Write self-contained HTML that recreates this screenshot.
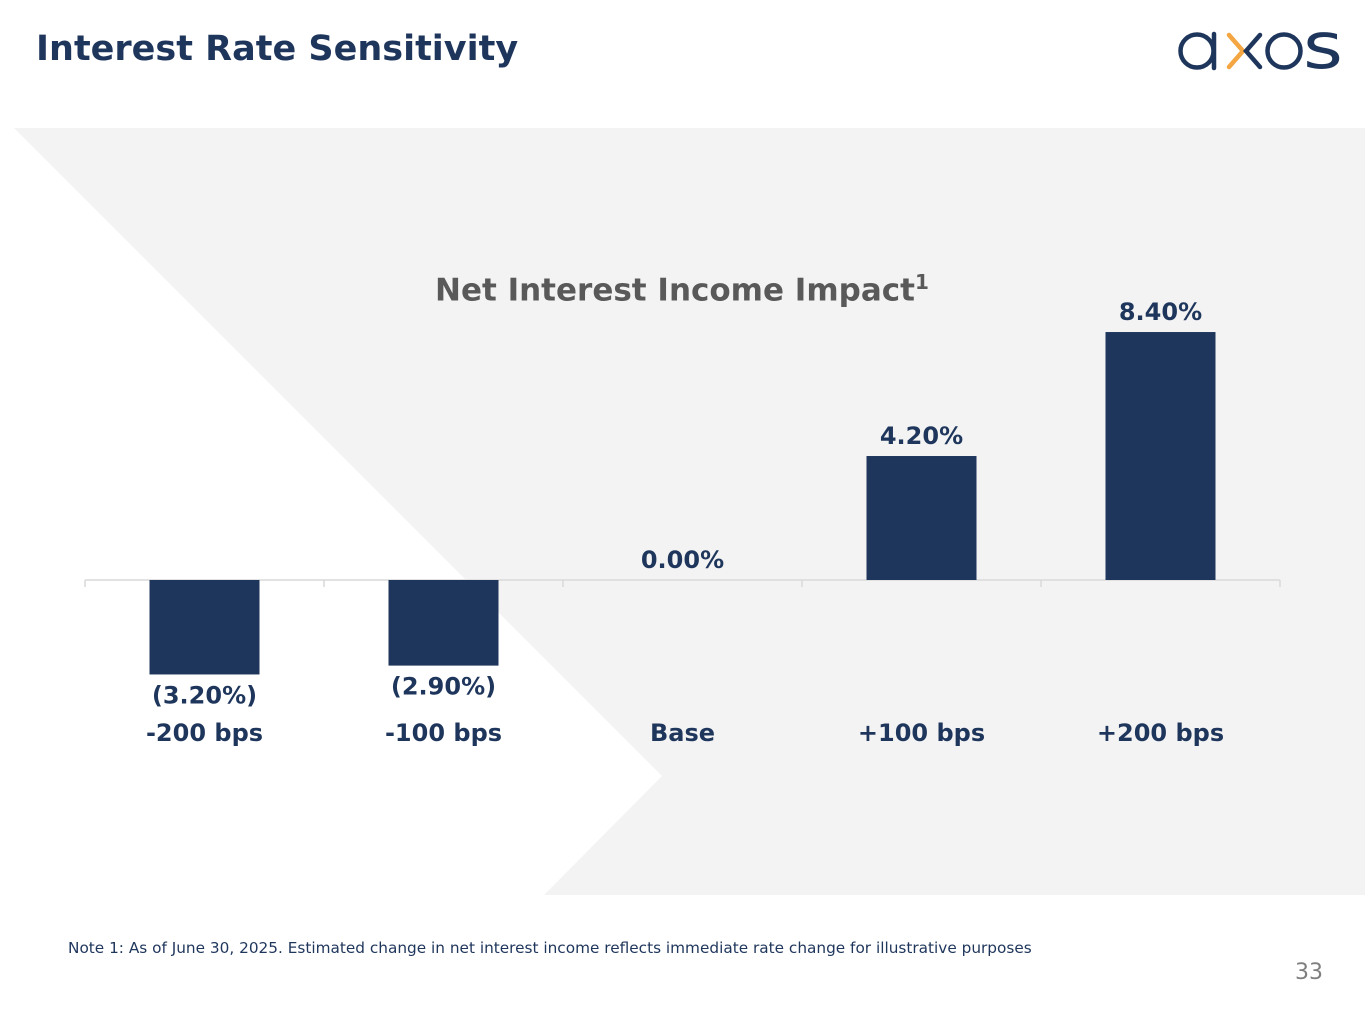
<!DOCTYPE html>
<html><head><meta charset="utf-8"><style>
body{margin:0;width:1365px;height:1024px;background:#fff;position:relative;overflow:hidden;font-family:"DejaVu Sans","Liberation Sans",sans-serif}
.t{position:absolute;white-space:nowrap}
</style></head><body>
<svg width="1365" height="1024" style="position:absolute;left:0;top:0">
<polygon points="14,128 1365,128 1365,895 544,895 662,776" fill="#f3f3f3"/>
<g fill="none" stroke-width="4.5" stroke-linecap="round">
<circle cx="1197" cy="51" r="16.5" stroke="#1f365c"/>
<line x1="1214" y1="34" x2="1214" y2="68" stroke="#1f365c"/>
<polyline points="1229,35 1243,51 1229,67" stroke="#f3a641"/>
<polyline points="1260,35 1246,51 1260,67" stroke="#1f365c"/>
<circle cx="1284" cy="51" r="16.5" stroke="#1f365c"/>
</g>
<text x="1303" y="68" font-family="DejaVu Sans" font-size="64" fill="#1f365c" textLength="40" lengthAdjust="spacingAndGlyphs">s</text>
<g id="chart"></g>
</svg>
<div class="t" style="left:36px;top:29px;font-size:35px;font-weight:bold;color:#1f365c">Interest Rate Sensitivity</div>
<div class="t" style="left:435px;top:270px;font-size:31px;font-weight:bold;color:#595959">Net Interest Income Impact<sup style="font-size:20px">1</sup></div>
<div class="t" style="left:68px;top:939px;font-size:15.3px;color:#1f365c">Note 1: As of June 30, 2025. Estimated change in net interest income reflects immediate rate change for illustrative purposes</div>
<div class="t" style="left:1295px;top:960px;font-size:22px;color:#7f7f7f">33</div>
<script>
const categories=["-200 bps","-100 bps","Base","+100 bps","+200 bps"];
const values=[-3.2,-2.9,0,4.2,8.4];
const labels=["(3.20%)","(2.90%)","0.00%","4.20%","8.40%"];
const NS="http://www.w3.org/2000/svg";
const g=document.getElementById('chart');
const x0=85,x1=1280,base=580,scale=29.52,bw=110;
const step=(x1-x0)/categories.length;
const xc=i=>x0+step*(i+0.5);
const y=v=>base-v*scale;
function el(t,a){const e=document.createElementNS(NS,t);for(const k in a)e.setAttribute(k,a[k]);g.appendChild(e);return e;}
const ax=el('line',{x1:x0,x2:x1,y1:base,y2:base,stroke:'#d9d9d9','stroke-width':1.5});


for(let i=0;i<=categories.length;i++){const tk=el('line',{x1:x0+step*i,x2:x0+step*i,y1:base,y2:base+7,stroke:'#d9d9d9','stroke-width':1.5});

}
values.forEach((v,i)=>{
 if(v!==0){const r=el('rect',{x:xc(i)-bw/2,y:Math.min(y(v),base),width:bw,height:Math.abs(y(v)-base),fill:'#1f365c'});
 
 }
 const ly=v>=0?y(v)-12:y(v)+29;
 const t=el('text',{x:xc(i),y:ly,'text-anchor':'middle','font-size':24,'font-weight':'bold',fill:'#1f365c','font-family':'DejaVu Sans'});
 t.textContent=labels[i];
 
 
 const c=el('text',{x:xc(i),y:741,'text-anchor':'middle','font-size':24,'font-weight':'bold',fill:'#1f365c','font-family':'DejaVu Sans'});
 c.textContent=categories[i];
 
 
});
</script>
</body></html>
